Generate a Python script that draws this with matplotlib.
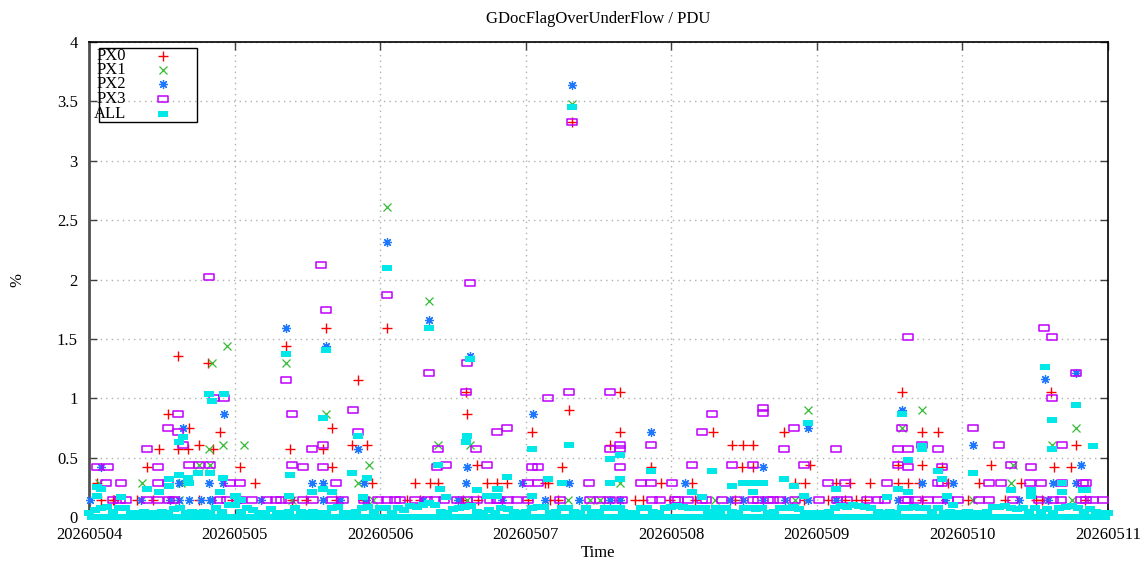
import matplotlib
matplotlib.use('Agg')
import matplotlib.pyplot as plt
import numpy as np
from matplotlib.path import Path
from matplotlib.patches import Rectangle

plt.rcParams['font.family'] = ['Liberation Serif', 'DejaVu Serif']

# x = hours since 2026-05-04 00:00, y = percent
day_labels = ['20260504', '20260505', '20260506', '20260507',
              '20260508', '20260509', '20260510', '20260511']

px0 = [
    (1.3, 0.29), (2.0, 0.14), (4.0, 0.14), (4.1, 0.14), (7.9, 0.14), (9.6, 0.42), (10.6, 0.14),
    (11.6, 0.57), (13.0, 0.87), (14.7, 1.36), (14.7, 0.57), (16.4, 0.57), (16.5, 0.75), (18.2, 0.61),
    (18.2, 0.14), (19.7, 1.30), (20.5, 0.57), (21.6, 0.72), (23.5, 0.14), (24.9, 0.42), (27.4, 0.29),
    (32.5, 1.44), (33.2, 0.57), (33.5, 0.14), (35.8, 0.14), (38.5, 0.57), (39.1, 1.59), (40.1, 0.75),
    (40.1, 0.42), (40.8, 0.14), (43.4, 0.61), (44.3, 1.15), (45.1, 0.14), (45.9, 0.61), (46.7, 0.29),
    (49.2, 1.59), (52.5, 0.14), (53.7, 0.29), (54.5, 0.14), (56.2, 0.29), (57.5, 0.29), (61.6, 0.14),
    (62.1, 1.05), (62.3, 0.87), (63.9, 0.44), (64.1, 0.14), (65.6, 0.29), (67.2, 0.29), (68.9, 0.29),
    (72.3, 0.14), (73.0, 0.72), (75.2, 0.29), (75.7, 0.29), (76.0, 0.14), (77.3, 0.14), (78.0, 0.42),
    (79.1, 0.90), (79.6, 3.33), (85.9, 0.61), (87.5, 1.05), (87.5, 0.72), (90.0, 0.14), (91.3, 0.14),
    (92.7, 0.42), (94.3, 0.29), (95.8, 0.14), (99.4, 0.29), (99.9, 0.14),
    (102.9, 0.72), (106.0, 0.61), (106.5, 0.14), (107.7, 0.42), (107.9, 0.61), (109.5, 0.61),
    (109.5, 0.42), (114.6, 0.72), (116.4, 0.29), (117.8, 0.14), (118.1, 0.29), (118.8, 0.44),
    (121.9, 0.14), (123.2, 0.29), (124.7, 0.14), (125.4, 0.29), (126.4, 0.14), (128.0, 0.14),
    (128.8, 0.29), (133.3, 0.29), (133.3, 0.44),
    (134.0, 1.05), (135.0, 0.29), (136.8, 0.29), (137.3, 0.72), (137.3, 0.44), (137.3, 0.14),
    (139.9, 0.72), (140.7, 0.42), (141.7, 0.29), (145.0, 0.14), (146.7, 0.29), (148.7, 0.44),
    (151.1, 0.14), (153.6, 0.29), (156.1, 0.14), (157.1, 0.14), (158.6, 1.05), (159.1, 0.42),
    (161.9, 0.42), (162.7, 0.61), (164.2, 0.14),
]

px1 = [
    (1.7, 0.29), (8.8, 0.29), (14.9, 0.14), (15.2, 0.29), (18.2, 0.44), (19.8, 0.57), (20.0, 0.44),
    (20.3, 1.30), (22.1, 0.61), (22.8, 1.44), (25.6, 0.61),
    (32.4, 1.30), (33.4, 0.14), (39.1, 0.87), (44.3, 0.29), (46.1, 0.44), (46.9, 0.14),
    (49.2, 2.61), (56.0, 1.82), (57.6, 0.61), (62.3, 0.14), (62.8, 0.61),
    (78.9, 0.14), (79.6, 3.48), (82.6, 0.14), (84.3, 0.14), (87.5, 0.29),
    (103.2, 0.14), (116.4, 0.14), (118.6, 0.90),
    (134.0, 0.75), (137.3, 0.90), (145.7, 0.14), (152.0, 0.29), (152.3, 0.44), (158.7, 0.61),
    (162.0, 0.14), (162.7, 0.75),
]

px2 = [
    (0.2, 0.14), (2.0, 0.42), (8.6, 0.14), (13.4, 0.14), (14.9, 0.29), (14.9, 0.14), (15.5, 0.75),
    (16.5, 0.14), (18.5, 0.14), (19.8, 0.29), (20.0, 0.14), (20.3, 0.14), (22.1, 0.29), (22.3, 0.87),
    (24.6, 0.14), (28.4, 0.14),
    (32.5, 1.59), (36.7, 0.29), (38.5, 0.29), (38.5, 0.14), (39.1, 1.44), (41.3, 0.14), (44.3, 0.57),
    (45.3, 0.29), (45.6, 0.14),
    (49.2, 2.32), (55.0, 0.14), (56.0, 1.66), (60.9, 0.14), (62.1, 0.29), (62.3, 0.42), (62.8, 1.36),
    (68.1, 0.14), (71.4, 0.29),
    (73.2, 0.87), (75.2, 0.14), (79.1, 0.29), (79.6, 3.64), (80.8, 0.14), (85.9, 0.14), (87.5, 0.14),
    (92.7, 0.72), (98.3, 0.29),
    (105.7, 0.14), (107.9, 0.14), (111.2, 0.42), (111.2, 0.14), (114.8, 0.14), (118.6, 0.75),
    (118.6, 0.14), (123.1, 0.14), (133.3, 0.14),
    (134.0, 0.90), (137.3, 0.29), (141.2, 0.14), (142.4, 0.29), (145.7, 0.61), (153.3, 0.14),
    (157.6, 1.16), (158.1, 0.14), (158.9, 0.29), (162.7, 1.21), (162.7, 0.29), (163.5, 0.44),
]

px3 = [
    (1.3, 0.42), (2.8, 0.29), (3.1, 0.42), (4.0, 0.14), (5.1, 0.14), (5.3, 0.29), (6.1, 0.14),
    (9.6, 0.57), (9.6, 0.14), (11.4, 0.42), (11.4, 0.29), (11.4, 0.14), (13.0, 0.75), (13.0, 0.29),
    (13.2, 0.14), (14.0, 0.14), (14.7, 0.87), (14.7, 0.72), (15.5, 0.61), (16.5, 0.44), (18.2, 0.44),
    (19.8, 2.02), (20.0, 0.44), (20.6, 1.00), (21.6, 0.14), (22.3, 1.00), (22.8, 0.14), (23.3, 0.29),
    (24.9, 0.29), (25.1, 0.14), (26.8, 0.14), (29.4, 0.14), (30.9, 0.14), (31.7, 0.14),
    (32.4, 1.15), (32.9, 0.14), (33.4, 0.87), (33.4, 0.44), (35.2, 0.42), (35.2, 0.14), (36.8, 0.57),
    (37.0, 0.14), (38.3, 2.12), (38.5, 0.61), (38.5, 0.42), (39.1, 1.74), (40.1, 0.14), (40.8, 0.29),
    (41.8, 0.14), (43.6, 0.90), (44.3, 0.72), (45.3, 0.14), (47.6, 0.14),
    (49.2, 1.87), (49.2, 0.14), (50.5, 0.14), (51.2, 0.14), (53.7, 0.14), (55.7, 0.14), (56.0, 1.21),
    (57.0, 0.14), (57.3, 0.42), (57.6, 0.57), (58.6, 0.14), (58.8, 0.44), (60.6, 0.14), (62.1, 1.05),
    (62.3, 1.30), (62.3, 0.14), (62.8, 1.97), (63.8, 0.57), (63.9, 0.14), (65.6, 0.44), (66.1, 0.14),
    (67.2, 0.72), (67.2, 0.14), (67.4, 0.14), (68.9, 0.75), (69.0, 0.14), (70.5, 0.14),
    (72.3, 0.29), (72.3, 0.14), (73.0, 0.42), (74.0, 0.42), (74.0, 0.29), (75.7, 1.00), (77.6, 0.14),
    (79.1, 1.05), (79.6, 3.33), (82.4, 0.29), (82.6, 0.14), (84.2, 0.14), (85.9, 1.05), (85.9, 0.57),
    (85.9, 0.14), (87.5, 0.61), (87.5, 0.57), (87.5, 0.42), (87.9, 0.14), (91.0, 0.29), (92.7, 0.61),
    (92.7, 0.29), (92.8, 0.14), (94.2, 0.14), (96.1, 0.29), (96.6, 0.14), (97.1, 0.14), (98.8, 0.14),
    (99.4, 0.44), (101.1, 0.72), (101.1, 0.14),
    (101.8, 0.14), (102.7, 0.87), (104.4, 0.14), (106.0, 0.44), (106.9, 0.14), (109.5, 0.44),
    (109.5, 0.14), (110.3, 0.14), (111.2, 0.88), (111.2, 0.92), (112.0, 0.14), (112.8, 0.14),
    (114.0, 0.14), (114.6, 0.57), (116.3, 0.75), (116.4, 0.14), (117.9, 0.44), (120.3, 0.14),
    (121.9, 0.29), (123.1, 0.57), (123.4, 0.14), (124.7, 0.29), (125.0, 0.14), (128.3, 0.14),
    (130.0, 0.14), (131.3, 0.14), (131.5, 0.29), (133.3, 0.57), (133.3, 0.44), (134.0, 0.75),
    (134.6, 0.14),
    (135.0, 1.52), (135.0, 0.57), (135.1, 0.42), (135.1, 0.14), (136.3, 0.14), (137.3, 0.61),
    (138.4, 0.14), (139.9, 0.57), (139.9, 0.29), (139.9, 0.14), (140.7, 0.42), (140.7, 0.29),
    (141.7, 0.14), (143.2, 0.14), (145.7, 0.75), (146.7, 0.14), (148.3, 0.29), (148.3, 0.14),
    (150.0, 0.61), (150.3, 0.29), (152.0, 0.44), (152.3, 0.14), (155.1, 0.29), (155.3, 0.42),
    (156.6, 0.14), (156.9, 0.29), (157.4, 1.59), (158.7, 1.52), (158.7, 1.00), (158.9, 0.14),
    (160.2, 0.14), (160.4, 0.61), (160.4, 0.29), (162.7, 1.21), (163.5, 0.14), (163.9, 0.29),
    (164.4, 0.29), (164.4, 0.14), (165.5, 0.14), (167.2, 0.14),
]

# ALL: hourly low band (one value per hour, 0..168)
all_band = [
    0.03, 0.055, 0.075, 0.085, 0.045, 0.075, 0.075, 0.03, 0.03, 0.045, 0.03, 0.03,
    0.045, 0.03, 0.065, 0.075, 0.03, 0.045, 0.03, 0.045, 0.03, 0.075, 0.045, 0.105,
    0.105, 0.045, 0.075, 0.055, 0.03, 0.03, 0.065, 0.03, 0.03, 0.045, 0.075, 0.045,
    0.03, 0.045, 0.03, 0.03, 0.075, 0.085, 0.03, 0.03, 0.045, 0.075, 0.085, 0.045,
    0.075, 0.075, 0.03, 0.075, 0.055, 0.095, 0.085, 0.105, 0.115, 0.105, 0.045, 0.03,
    0.065, 0.075, 0.085, 0.095, 0.045, 0.03, 0.055, 0.03, 0.075, 0.065, 0.045, 0.03,
    0.045, 0.075, 0.085, 0.085, 0.03, 0.045, 0.075, 0.075, 0.045, 0.03, 0.075, 0.045,
    0.045, 0.075, 0.075, 0.075, 0.045, 0.03, 0.03, 0.075, 0.075, 0.045, 0.03, 0.075,
    0.085, 0.095, 0.085, 0.075, 0.075, 0.075, 0.045, 0.03, 0.03, 0.075, 0.045, 0.03,
    0.075, 0.075, 0.065, 0.075, 0.03, 0.045, 0.075, 0.075, 0.085, 0.065, 0.03, 0.03,
    0.03, 0.03, 0.045, 0.075, 0.095, 0.085, 0.105, 0.095, 0.085, 0.075, 0.045, 0.03,
    0.045, 0.03, 0.075, 0.075, 0.085, 0.075, 0.075, 0.045, 0.075, 0.03, 0.045, 0.03,
    0.03, 0.045, 0.03, 0.03, 0.045, 0.085, 0.085, 0.095, 0.075, 0.065, 0.075, 0.045,
    0.075, 0.045, 0.065, 0.03, 0.075, 0.085, 0.095, 0.075, 0.045, 0.065, 0.045, 0.03,
    0.03,
]

# ALL: the zero readings sitting on the axis, at the half hours
all_floor = [
    0.0, 0.0, 0.0, 0.0, 0.0, 0.0, 0.0, 0.0, 0.0, 0.0, 0.0, 0.0, 0.0, 0.0, 0.0, 0.0, 0.0, 0.0, 0.0, 0.0, 0.0, 0.0, 0.0, 0.0,
    0.0, 0.0, 0.0, 0.0, 0.0, 0.0, 0.0, 0.0, 0.0, 0.0, 0.0, 0.0, 0.0, 0.0, 0.0, 0.0, 0.0, 0.0, 0.0, 0.0, 0.0, 0.0, 0.0, 0.0,
    0.0, 0.0, 0.0, 0.0, 0.0, 0.0, 0.0, 0.0, 0.0, 0.0, 0.0, 0.0, 0.0, 0.0, 0.0, 0.0, 0.0, 0.0, 0.0, 0.0, 0.0, 0.0, 0.0, 0.0,
    0.0, 0.0, 0.0, 0.0, 0.0, 0.0, 0.0, 0.0, 0.0, 0.0, 0.0, 0.0, 0.0, 0.0, 0.0, 0.0, 0.0, 0.0, 0.0, 0.0, 0.0, 0.0, 0.0, 0.0,
    0.0, 0.0, 0.0, 0.0, 0.0, 0.0, 0.0, 0.0, 0.0, 0.0, 0.0, 0.0, 0.0, 0.0, 0.0, 0.0, 0.0, 0.0, 0.0, 0.0, 0.0, 0.0, 0.0, 0.0,
    0.0, 0.0, 0.0, 0.0, 0.0, 0.0, 0.0, 0.0, 0.0, 0.0, 0.0, 0.0, 0.0, 0.0, 0.0, 0.0, 0.0, 0.0, 0.0, 0.0, 0.0, 0.0, 0.0, 0.0,
    0.0, 0.0, 0.0, 0.0, 0.0, 0.0, 0.0, 0.0, 0.0, 0.0, 0.0, 0.0, 0.0, 0.0, 0.0, 0.0, 0.0, 0.0, 0.0, 0.0, 0.0, 0.0, 0.0, 0.0,
]

all_raised = [
    (1.3, 0.25), (2.0, 0.24), (1.3, 0.18), (5.3, 0.17), (9.6, 0.24), (11.6, 0.21), (13.2, 0.32),
    (13.2, 0.26), (14.9, 0.35), (16.4, 0.33), (16.5, 0.29), (18.0, 0.37), (20.0, 0.37), (21.6, 0.21),
    (22.1, 0.33), (14.9, 0.63), (15.5, 0.67), (19.8, 1.04), (22.3, 1.04), (20.3, 0.98), (24.0, 0.18),
    (24.8, 0.14), (24.3, 0.18), (25.1, 0.14), (33.2, 0.35), (32.9, 0.18), (32.5, 1.37), (39.1, 1.41),
    (38.5, 0.83), (44.3, 0.68), (43.4, 0.37), (45.9, 0.33), (36.8, 0.21), (38.5, 0.24), (40.1, 0.21),
    (45.1, 0.17), (49.2, 2.10), (56.0, 1.59), (57.6, 0.44), (57.8, 0.24), (58.8, 0.17), (62.8, 1.33),
    (62.3, 0.68), (62.1, 0.63), (63.9, 0.23), (65.6, 0.18), (67.2, 0.24), (67.2, 0.18), (79.6, 3.45),
    (73.0, 0.57), (79.1, 0.61), (85.9, 0.49), (87.5, 0.52), (92.7, 0.39), (68.9, 0.34), (75.7, 0.32),
    (78.0, 0.29), (85.9, 0.29), (87.5, 0.32), (99.4, 0.21), (101.1, 0.17), (73.0, 0.18), (67.4, 0.24),
    (85.9, 0.08), (87.6, 0.08), (101.6, 0.08),
    (118.6, 0.79), (134.0, 0.87), (102.7, 0.39), (106.0, 0.26), (107.9, 0.29), (109.5, 0.29),
    (111.2, 0.29), (109.5, 0.21), (114.6, 0.32), (116.3, 0.26), (117.9, 0.18), (123.1, 0.24),
    (133.3, 0.24), (135.0, 0.48), (135.0, 0.21), (131.5, 0.17), (103.4, 0.08), (109.5, 0.08),
    (116.3, 0.08), (137.3, 0.60), (137.3, 0.57), (162.7, 0.94), (158.7, 0.82), (157.6, 1.26),
    (165.5, 0.60), (158.7, 0.57), (140.0, 0.39), (140.7, 0.32), (145.7, 0.37), (135.1, 0.21),
    (141.5, 0.18), (152.0, 0.23), (155.3, 0.23), (155.3, 0.18), (160.4, 0.29), (160.4, 0.21),
    (163.9, 0.23), (164.4, 0.23), (142.4, 0.10),
]

colors = {'PX0': '#ff0000', 'PX1': '#33bb33', 'PX2': '#1e78ff',
          'PX3': '#c000ff', 'ALL': '#00e8e8'}

# gnuplot-like squares come out wider than tall
box = Path([(-1, -0.62), (1, -0.62), (1, 0.62), (-1, 0.62), (-1, -0.62)],
           [Path.MOVETO, Path.LINETO, Path.LINETO, Path.LINETO, Path.CLOSEPOLY])

styles = {
    'PX0': dict(marker='+', ms=6.5, mew=1.0, mec=colors['PX0']),
    'PX1': dict(marker='x', ms=5.5, mew=0.9, mec=colors['PX1']),
    'PX2': dict(marker=(8, 2, 0), ms=6.5, mew=0.9, mec=colors['PX2']),
    'PX3': dict(marker=box, ms=6.5, mew=1.1, mec=colors['PX3'], mfc='none'),
    'ALL': dict(marker=box, ms=6.5, mew=0.0, mfc=colors['ALL'], mec=colors['ALL']),
}

all_h = (list(np.arange(len(all_band))) + list(np.arange(len(all_floor)) + 0.5)
         + [p[0] for p in all_raised])
all_v = list(all_band) + list(all_floor) + [p[1] for p in all_raised]

series = [
    ('PX0', [p[0] for p in px0], [p[1] for p in px0]),
    ('PX1', [p[0] for p in px1], [p[1] for p in px1]),
    ('PX2', [p[0] for p in px2], [p[1] for p in px2]),
    ('PX3', [p[0] for p in px3], [p[1] for p in px3]),
    ('ALL', all_h, all_v),
]

fig = plt.figure(figsize=(11.43, 5.62), dpi=100)
W, H = 1143, 562
L, R, T, B = 89, 1108, 42, 517
ax = fig.add_axes([L / W, (H - B) / H, (R - L) / W, (B - T) / H])

for n, (name, xs, ys) in enumerate(series):
    ax.plot(xs, ys, linestyle='none', clip_on=False, zorder=3 + n, **styles[name])

ax.set_xlim(0, 168)
ax.set_ylim(0, 4)
ax.set_xticks(np.arange(0, 169, 24))
ax.set_xticklabels(day_labels)
ax.set_yticks(np.arange(0, 4.01, 0.5))
ax.set_yticklabels(['0', '0.5', '1', '1.5', '2', '2.5', '3', '3.5', '4'])

ax.tick_params(direction='in', length=6, width=1, color='#404040',
               top=True, right=True, labelsize=12)
ax.tick_params(axis='y', pad=8)
ax.tick_params(axis='x', pad=7)

ax.grid(True, color='#b0b0b0', linestyle=(0, (1, 3)), linewidth=1.0)
ax.set_axisbelow(True)
for s in ax.spines.values():
    s.set_linewidth(1.2)
    s.set_color('black')
ax.spines['left'].set_color('#505050')
ax.spines['left'].set_linewidth(2)

ax.set_title('GDocFlagOverUnderFlow / PDU', fontsize=12, pad=14)
fig.text(598 / W, 1 - 553 / H, 'Time', ha='center', va='center', fontsize=12)
fig.text(17 / W, 1 - 280 / H, '%', ha='center', va='center', rotation=90, fontsize=12)

# key box drawn by hand, text right-aligned with the marker to its right
def fx(px):
    return (px - L) / (R - L)

def fy(py):
    return (B - py) / (B - T)

ax.add_patch(Rectangle((fx(99), fy(122)), fx(197) - fx(99), fy(48) - fy(122),
                       transform=ax.transAxes, fill=False, edgecolor='black',
                       linewidth=1.0, zorder=10, clip_on=False))
key_rows = [55.7, 69.5, 84.3, 98.8, 114.0]
for (name, _, _), py in zip(series, key_rows):
    ax.text(fx(126), fy(py), name, transform=ax.transAxes, ha='right', va='center',
            fontsize=12, zorder=11)
    ax.plot([fx(163)], [fy(py)], transform=ax.transAxes, linestyle='none',
            clip_on=False, zorder=11, **styles[name])

fig.savefig('out.png', dpi=100)
